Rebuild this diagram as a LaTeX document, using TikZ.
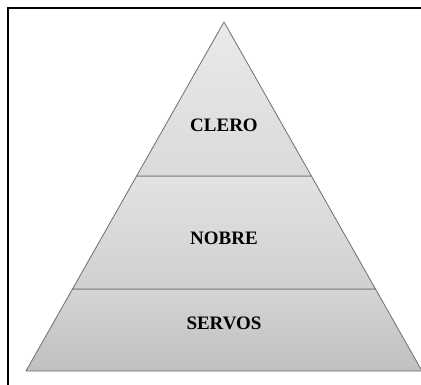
\documentclass[tikz,border=0pt]{standalone}
\usepackage{fontspec}
\setmainfont{Liberation Serif}
\definecolor{edge}{HTML}{6E6E6E}
\definecolor{clerotop}{HTML}{EAEAEA}
\definecolor{clerobot}{HTML}{DADADA}
\definecolor{nobretop}{HTML}{E2E2E2}
\definecolor{nobrebot}{HTML}{D0D0D0}
\definecolor{servostop}{HTML}{D4D4D4}
\definecolor{servosbot}{HTML}{C0C0C0}

\begin{document}
\begin{tikzpicture}[x=1pt, y=-1pt,
    layer/.style={draw=edge, line width=0.8pt, line join=round},
    label/.style={font=\fontsize{19}{19}\selectfont\bfseries, text=black}]
    \useasboundingbox (0,0) rectangle (421,385);

    % frame of the page
    \draw[line width=2.6pt] (8,385) -- (8,8) -- (421,8);

    % pyramid corners
    \coordinate (top) at (224,22);
    \coordinate (cl) at (136.6,176);
    \coordinate (cr) at (311.4,176);
    \coordinate (nl) at (72.5,289);
    \coordinate (nr) at (375.5,289);
    \coordinate (bl) at (26,371);
    \coordinate (br) at (422,371);

    % soft shadow under the base
    \draw[black!35, line width=1.2pt] ([yshift=1.5pt]bl) -- ([yshift=1.5pt]br);

    \draw[layer, top color=servostop, bottom color=servosbot] (nl) -- (nr) -- (br) -- (bl) -- cycle;
    \draw[layer, top color=nobretop, bottom color=nobrebot] (cl) -- (cr) -- (nr) -- (nl) -- cycle;
    \draw[layer, top color=clerotop, bottom color=clerobot] (top) -- (cr) -- (cl) -- cycle;

    \node at (224,125) (clero) [label] {CLERO};
    \node at (224,238) (nobre) [label] {NOBRE};
    \node at (224,323) (servos) [label] {SERVOS};
\end{tikzpicture}
\end{document}
